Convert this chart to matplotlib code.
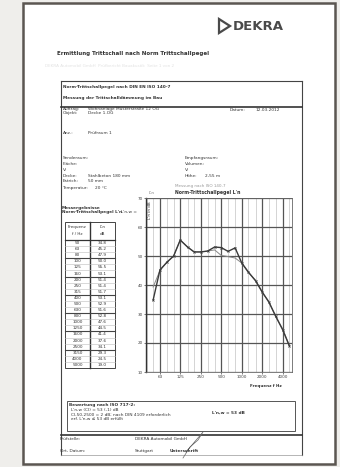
import matplotlib.pyplot as plt
from matplotlib.patches import Rectangle, Polygon

# Terzband-Mittenfrequenzen und Messwerte (aus dem Bild geschätzt)
freqs = [50, 63, 80, 100, 125, 160, 200, 250, 315, 400, 500,
         630, 800, 1000, 1250, 1600, 2000, 2500, 3150, 4000, 5000]
pegel_mess = [34.8, 45.2, 47.9, 50.0, 55.5, 53.1, 51.4, 51.4, 51.7, 53.1, 52.9,
              51.6, 52.8, 47.6, 44.5, 41.4, 37.6, 34.1, 29.3, 24.5, 19.0]
pegel_zweit = [39.3, 45.0, 47.9, 50.0, 55.5, 53.1, 51.4, 51.4, 51.7, 52.1, 50.2,
               49.8, 49.3, 47.6, 44.2, 41.7, 37.3, 34.4, 29.0, 24.8, 19.2]

oktav_ticks = [63, 125, 250, 500, 1000, 2000, 4000]
oktav_labels = ['63', '125', '250', '500', '1000', '2000', '4000']
y_ticks = [10, 20, 30, 40, 50, 60, 70]

W, H = 340, 467
fig = plt.figure(figsize=(3.4, 4.67), dpi=100)
fig.patch.set_facecolor('#efeeeb')

page = fig.add_axes([0, 0, 1, 1])
page.set_xlim(0, W)
page.set_ylim(H, 0)
page.axis('off')

# Blatt
page.add_patch(Rectangle((23, 3), 312, 461, facecolor='white',
                         edgecolor='#5b5651', lw=1.8))

# DEKRA Logo
page.add_patch(Polygon([(219, 19), (230, 26), (219, 33)], closed=True,
                       facecolor='none', edgecolor='#4a4a4a', lw=1.6))
page.text(233, 26.5, 'DEKRA', fontsize=9.5, color='#4a4a4a', va='center',
          ha='left', fontweight='bold')

page.text(57, 53, 'Ermittlung Trittschall nach Norm Trittschallpegel', fontsize=4.0,
          fontweight='bold', color='#333', va='center')
page.text(45, 66, 'DEKRA Automobil GmbH  Prüfbericht Bauakustik  Seite 1 von 2',
          fontsize=3, color='#e2e2e2', va='center')

# Rahmen
ln = dict(color='#444', lw=0.8)
page.plot([61, 302], [81, 81], **ln)
page.plot([61, 61], [81, 455], **ln)
page.plot([302, 302], [81, 455], **ln)
page.plot([61, 302], [107, 107], color='#333', lw=1.2)
page.plot([61, 302], [435, 435], color='#333', lw=1.2)
page.plot([61, 302], [455, 455], color='#999', lw=0.5)

kopf = [
    (63, 87, 'Norm-Trittschallpegel nach DIN EN ISO 140-7', True),
    (63, 98, 'Messung der Trittschalldämmung im Bau', True),
    (63, 109, 'Auftrag:', False), (88, 109, 'Wohnanlage Musterstraße 12 OG', False),
    (63, 113, 'Objekt:', False), (88, 113, 'Decke 1.OG', False),
    (230, 110, 'Datum:', False), (255, 110, '12.03.2012', False),
    (63, 133, 'Anz.:', False), (88, 133, 'Prüfraum 1', False),
    (63, 158, 'Senderaum:', False), (185, 158, 'Empfangsraum:', False),
    (63, 164, 'Fläche:', False), (185, 164, 'Volumen:', False),
    (63, 170, 'V:', False), (185, 170, 'V:', False),
    (63, 176, 'Decke:', False), (88, 176, 'Stahlbeton 180 mm', False),
    (185, 176, 'Höhe:', False), (205, 176, '2,55 m', False),
    (63, 181, 'Estrich:', False), (88, 181, '50 mm', False),
    (63, 188, 'Temperatur:', False), (95, 188, '20 °C', False),
    (62, 208, 'Messergebnisse', True),
    (62, 212, 'Norm-Trittschallpegel L\'n', True),
    (121, 212, 'L\'n,w =', False),
]
for x, y, t, b in kopf:
    page.text(x, y, t, fontsize=3.1, va='center', color='#333',
              fontweight='bold' if b else 'normal')

# Tabelle
tx0, tx1, tx2 = 65, 90, 115
ty0, ty_h = 222, 240
row_h = (368 - ty_h) / len(freqs)
page.add_patch(Rectangle((tx0, ty0), tx2 - tx0, 368 - ty0, facecolor='none',
                         edgecolor='#444', lw=0.7))
page.plot([tx1, tx1], [ty0, 368], color='#333', lw=1.0)
page.plot([tx0, tx2], [ty_h, ty_h], color='#333', lw=0.9)
page.text((tx0 + tx1) / 2, 227, 'Frequenz', fontsize=3, ha='center', va='center', color='#333')
page.text((tx0 + tx1) / 2, 234, 'f / Hz', fontsize=3, ha='center', va='center', color='#333')
page.text((tx1 + tx2) / 2, 227, "L'n", fontsize=3, ha='center', va='center', color='#333')
page.text((tx1 + tx2) / 2, 234, 'dB', fontsize=3, ha='center', va='center', color='#333')
for i, (f, v) in enumerate(zip(freqs, pegel_mess)):
    yc = ty_h + (i + 0.5) * row_h
    page.text((tx0 + tx1) / 2, yc, str(f), fontsize=3, ha='center', va='center', color='#333')
    page.text((tx1 + tx2) / 2, yc, f'{v:.1f}', fontsize=3, ha='center', va='center', color='#333')
    if i > 0:
        yl = ty_h + i * row_h
        page.plot([tx0, tx2], [yl, yl], color='#444' if i % 3 == 0 else '#bbb',
                  lw=0.8 if i % 3 == 0 else 0.4)

# Diagramm
l, r, t, b = 146, 292, 198, 372
ax = fig.add_axes([l / W, 1 - b / H, (r - l) / W, (b - t) / H])
ax.set_xscale('log')
ax.set_xlim(39.3, 5470)
ax.set_ylim(10, 70)
ax.set_yticks(y_ticks)
ax.set_xticks(oktav_ticks)
ax.set_xticklabels(oktav_labels)
ax.set_xticks([40] + freqs, minor=True)
ax.xaxis.set_minor_formatter(plt.NullFormatter())
ax.tick_params(labelsize=3, length=1.5, width=0.5, pad=1, colors='#444')
ax.tick_params(which='minor', length=0)
ax.grid(True, which='major', color='#555', lw=0.9)
ax.grid(True, which='minor', axis='x', color='#c4c4c4', lw=0.5)
for s in ax.spines.values():
    s.set_color('#666')
    s.set_linewidth(0.6)
ax.spines['left'].set_color('#333')
ax.spines['left'].set_linewidth(1.0)

ax.plot(freqs, pegel_zweit, color='#888', lw=0.7)
ax.plot(freqs, pegel_mess, color='#3a3a3a', lw=1.0, marker='x', ms=1.5, mew=0.5)

ax.text(0.015, 0.98, "L'n in dB", transform=ax.transAxes,
        rotation=90, fontsize=3, va='top', ha='left', color='#333')
ax.text(0.93, -0.07, 'Frequenz f Hz', transform=ax.transAxes, fontsize=3,
        ha='right', va='top', color='#333', fontweight='bold')
ax.text(0.2, 1.02, 'Norm-Trittschallpegel L\'n', transform=ax.transAxes,
        fontsize=3.3, ha='left', va='bottom', color='#333', fontweight='bold')
ax.text(0.2, 1.055, 'Messung nach ISO 140-7', transform=ax.transAxes,
        fontsize=3, ha='left', va='bottom', color='#999')
ax.text(0.02, 1.02, "L'n", transform=ax.transAxes, fontsize=3, ha='left',
        va='bottom', color='#777')

# Bewertung unten
page.add_patch(Rectangle((67, 401), 228, 30, facecolor='none', edgecolor='#555', lw=0.7))
unten = [
    (69, 405, 'Bewertung nach ISO 717-2:', True),
    (71, 410, "L'n,w (CI) = 53 (-1) dB", False),
    (71, 415, 'CI,50-2500 = 2 dB; nach DIN 4109 erforderlich', False),
    (71, 419, "erf. L'n,w ≤ 53 dB erfüllt", False),
    (212, 413, 'L\'n,w = 53 dB', True),
    (60, 439, 'Prüfstelle:', False), (135, 439, 'DEKRA Automobil GmbH', False),
    (60, 451, 'Ort, Datum:', False), (135, 451, 'Stuttgart', False),
    (170, 451, 'Unterschrift', True),
]
for x, y, tx, bb in unten:
    page.text(x, y, tx, fontsize=3.1, va='center', color='#333',
              fontweight='bold' if bb else 'normal')
page.plot([183, 190, 198, 203, 186], [458, 447, 440, 432, 452], color='#666', lw=0.5)

fig.savefig('out.png', dpi=100)
